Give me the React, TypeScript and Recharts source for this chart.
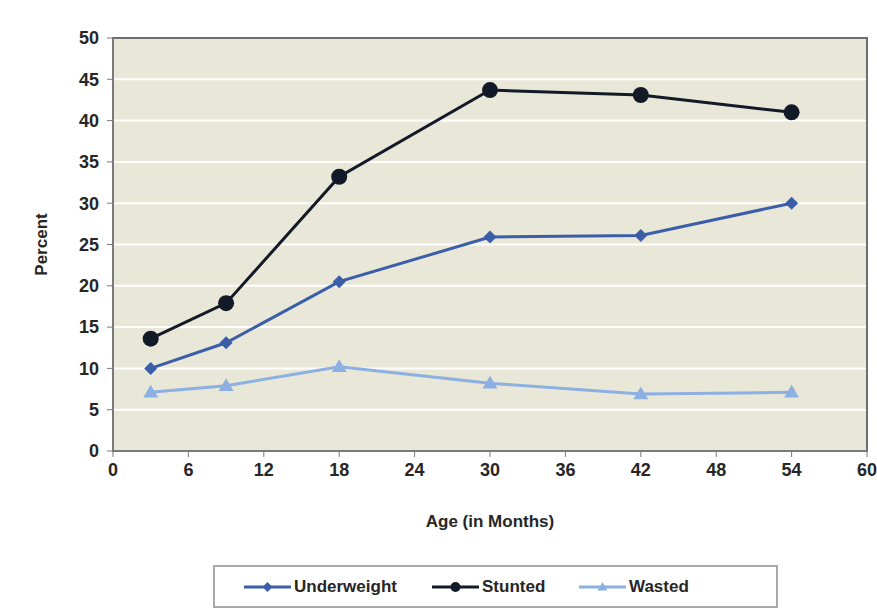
import { LineChart, Line, XAxis, YAxis, CartesianGrid, ReferenceArea, Label } from "recharts";

const ages = [3, 9, 18, 30, 42, 54];
const underweight = [10.0, 13.1, 20.5, 25.9, 26.1, 30.0];
const stunted = [13.6, 17.9, 33.2, 43.7, 43.1, 41.0];
const wasted = [7.1, 7.9, 10.2, 8.2, 6.9, 7.1];
const xTicks = [0, 6, 12, 18, 24, 30, 36, 42, 48, 54, 60];
const yTicks = [0, 5, 10, 15, 20, 25, 30, 35, 40, 45, 50];

const data = ages.map((age, i) => ({
  age,
  underweight: underweight[i],
  stunted: stunted[i],
  wasted: wasted[i],
}));

const series = [
  { key: "underweight", name: "Underweight", color: "#3a5ea8", shape: "diamond", legendX: 29 },
  { key: "stunted", name: "Stunted", color: "#121a28", shape: "circle", legendX: 217 },
  { key: "wasted", name: "Wasted", color: "#8cb0e2", shape: "triangle", legendX: 364 },
];

const Diamond = ({ cx, cy, fill, s }: any) =>
  cx == null ? null : (
    <path d={`M${cx},${cy - s} L${cx + s},${cy} L${cx},${cy + s} L${cx - s},${cy} Z`} fill={fill} />
  );

const Circle = ({ cx, cy, fill, r }: any) =>
  cx == null ? null : <circle cx={cx} cy={cy} r={r} fill={fill} />;

const Triangle = ({ cx, cy, fill, s }: any) =>
  cx == null ? null : (
    <path d={`M${cx},${cy - s} L${cx + s},${cy + s * 0.7} L${cx - s},${cy + s * 0.7} Z`} fill={fill} />
  );

const marker = (shape: string, color: string) => (props: any) => {
  const { cx, cy, index } = props;
  if (shape === "diamond") return <Diamond key={index} cx={cx} cy={cy} fill={color} s={6.5} />;
  if (shape === "circle") return <Circle key={index} cx={cx} cy={cy} fill={color} r={8} />;
  return <Triangle key={index} cx={cx} cy={cy} fill={color} s={7.5} />;
};

const font = "'Liberation Sans', Arial, sans-serif";
const ink = "#262626";

export default function App() {
  return (
    <div style={{ position: "absolute", left: 0, top: 0, width: 877, height: 610, background: "#fff", fontFamily: font }}>
      <LineChart width={877} height={610} data={data} margin={{ top: 38, right: 10, left: 53, bottom: 79 }}>
        <CartesianGrid vertical={false} horizontal stroke="#ffffff" strokeWidth={2} fill="#e9e7d8" />
        <XAxis
          type="number"
          dataKey="age"
          domain={[0, 60]}
          ticks={xTicks}
          height={80}
          stroke="#7a7a7a"
          tickSize={6}
          tick={{ fill: ink, fontSize: 18, fontWeight: 700, fontFamily: font, dy: 4 }}
          axisLine={{ stroke: "#7a7a7a", strokeWidth: 2 }}
        >
          <Label value="Age (in Months)" position="insideBottom" offset={4} fill={ink} fontSize={17} fontWeight={700} fontFamily={font} />
        </XAxis>
        <YAxis
          type="number"
          domain={[0, 50]}
          ticks={yTicks}
          width={60}
          interval={0}
          stroke="#7a7a7a"
          tickSize={6}
          tick={{ fill: ink, fontSize: 18, fontWeight: 700, fontFamily: font, dx: -6 }}
          axisLine={{ stroke: "#7a7a7a", strokeWidth: 2 }}
        >
          <Label
            value="Percent"
            angle={-90}
            position="insideLeft"
            offset={-12}
            textAnchor="middle"
            fill={ink}
            fontSize={17}
            fontWeight={700}
            fontFamily={font}
          />
        </YAxis>
        <ReferenceArea x1={0} x2={60} y1={0} y2={50} fill="none" stroke="#6e6e6e" strokeWidth={2} ifOverflow="visible" />
        {series.map((s) => (
          <Line
            key={s.key}
            type="linear"
            dataKey={s.key}
            name={s.name}
            stroke={s.color}
            strokeWidth={3}
            dot={marker(s.shape, s.color)}
            activeDot={false}
            isAnimationActive={false}
          />
        ))}
      </LineChart>
      <div
        style={{
          position: "absolute",
          left: 213,
          top: 565,
          width: 565,
          height: 43,
          border: "2px solid #a9a9a9",
          boxSizing: "border-box",
          fontSize: 17,
          fontWeight: 700,
          color: ink,
        }}
      >
        {series.map((s) => (
          <div
            key={s.key}
            style={{ position: "absolute", left: s.legendX, top: 0, height: 39, display: "flex", alignItems: "center" }}
          >
            <svg width={47} height={14}>
              <line x1={0} y1={7} x2={47} y2={7} stroke={s.color} strokeWidth={3} />
              {s.shape === "diamond" && <Diamond cx={23.5} cy={7} fill={s.color} s={5} />}
              {s.shape === "circle" && <Circle cx={23.5} cy={7} fill={s.color} r={5} />}
              {s.shape === "triangle" && <Triangle cx={23.5} cy={7} fill={s.color} s={5} />}
            </svg>
            <span style={{ marginLeft: 3 }}>{s.name}</span>
          </div>
        ))}
      </div>
    </div>
  );
}
